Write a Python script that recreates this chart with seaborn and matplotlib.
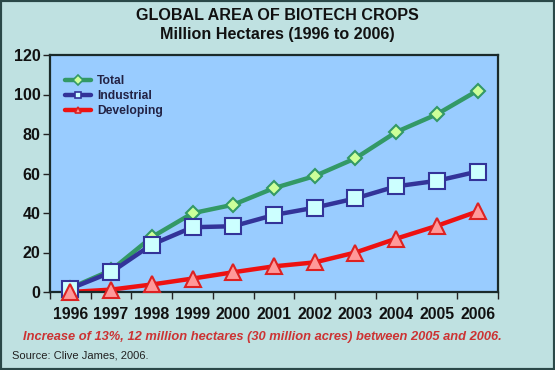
import numpy as np
import pandas as pd
import matplotlib
matplotlib.use("Agg")
import matplotlib.pyplot as plt
import seaborn as sns
from matplotlib.patches import Rectangle
from matplotlib.lines import Line2D

years = ["1996", "1997", "1998", "1999", "2000", "2001", "2002", "2003", "2004", "2005", "2006"]
total = [2.0, 11.0, 27.8, 39.9, 44.2, 52.6, 58.7, 67.7, 81.0, 90.0, 102.0]
industrial = [1.7, 10.0, 24.0, 32.8, 33.3, 39.0, 42.7, 47.4, 53.5, 56.3, 61.0]
developing = [0.0, 1.2, 3.8, 6.8, 10.0, 13.0, 15.0, 20.0, 27.0, 33.5, 40.8]
series_names = ["Total", "Industrial", "Developing"]
y_ticks = [0, 20, 40, 60, 80, 100, 120]

df = pd.DataFrame({
    "Year": years * 3,
    "Value": total + industrial + developing,
    "Series": [series_names[0]] * 11 + [series_names[1]] * 11 + [series_names[2]] * 11,
})
df["pos"] = list(range(len(years))) * 3

sns.set_theme(style="white")
plt.rcParams["font.family"] = ["Liberation Sans", "DejaVu Sans"]

bg = "#bfe1e1"
fig = plt.figure(figsize=(5.55, 3.70), dpi=100, facecolor=bg)
ax = fig.add_axes([50 / 555, 1 - 292 / 370, 448 / 555, 237 / 370])
ax.set_facecolor("#99ccff")

styles = {
    "Total": dict(color="#339966", marker="D", mfc="#ccff99", mec="#339966", ms=7),
    "Industrial": dict(color="#333399", marker="s", mfc="#ccffff", mec="#333399", ms=11),
    "Developing": dict(color="#ee1111", marker="^", mfc="#ff9999", mec="#dd2222", ms=11),
}
palette = {k: v["color"] for k, v in styles.items()}
sns.lineplot(data=df, x="pos", y="Value", hue="Series", palette=palette, ax=ax,
             linewidth=3.2, legend=False, sort=False)
for name in series_names:
    sub = df[df["Series"] == name]
    st = styles[name]
    ax.plot(sub["pos"], sub["Value"], linestyle="none", marker=st["marker"],
            markersize=st["ms"], markerfacecolor=st["mfc"], markeredgecolor=st["mec"],
            markeredgewidth=1.5, zorder=5, clip_on=False)

handles = [Line2D([0], [0], color=styles[n]["color"], lw=3.2, marker=styles[n]["marker"],
                  mfc=styles[n]["mfc"], mec=styles[n]["mec"], ms=5, mew=1.2) for n in series_names]
leg = ax.legend(handles, series_names, loc="upper left", bbox_to_anchor=(0.0, 0.975),
                frameon=False, prop={"weight": "bold", "size": 8.7}, handlelength=2.2,
                labelspacing=0.25, handletextpad=0.5, borderaxespad=0.8)
for t in leg.get_texts():
    t.set_color("#222244")

ax.set_xlim(-0.5, len(years) - 0.5)
ax.set_ylim(0, 120)
ax.set_xticks(range(len(years)))
ax.set_xticklabels(years)
ax.set_xticks(np.arange(-0.5, len(years), 1), minor=True)
ax.set_yticks(y_ticks)
ax.set_xlabel("")
ax.set_ylabel("")
ax.tick_params(axis="x", which="major", length=0, pad=11, labelsize=11.4)
ax.tick_params(axis="x", which="minor", length=5, width=1, color="#222222", direction="out", bottom=True)
ax.tick_params(axis="y", length=5, width=1, color="#222222", direction="out", left=True, labelsize=11.6, pad=2)
for lab in ax.get_xticklabels() + ax.get_yticklabels():
    lab.set_fontweight("bold")
    lab.set_color("#111111")
for s in ax.spines.values():
    s.set_visible(True)
    s.set_color("#1a2a2a")
    s.set_linewidth(1.6)

fig.text(0.5, 1 - 16 / 370, "GLOBAL AREA OF BIOTECH CROPS", ha="center", va="center",
         fontsize=11.6, fontweight="bold", color="#111111")
fig.text(0.5, 1 - 35 / 370, "Million Hectares (1996 to 2006)", ha="center", va="center",
         fontsize=11.6, fontweight="bold", color="#111111")
fig.text(262 / 555, 1 - 337 / 370,
         "Increase of 13%, 12 million hectares (30 million acres) between 2005 and 2006.",
         ha="center", va="center", fontsize=9.3, fontweight="bold", fontstyle="italic", color="#cc3333")
fig.text(12 / 555, 1 - 356 / 370, "Source: Clive James, 2006.", ha="left", va="center",
         fontsize=8.0, color="#222222")

fig.patches.append(Rectangle((0, 0), 1, 1, transform=fig.transFigure, fill=False,
                             edgecolor="#2a4848", linewidth=3, zorder=10))

fig.savefig("out.png", dpi=100, facecolor=bg)
